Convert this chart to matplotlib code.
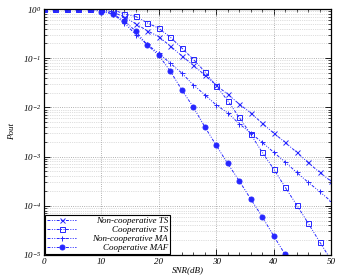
import numpy as np
import matplotlib
matplotlib.use("Agg")
import matplotlib.pyplot as plt
from matplotlib.ticker import LogLocator, FixedLocator, NullFormatter

plt.rcParams['font.family'] = 'Liberation Serif'
plt.rcParams['font.style'] = 'italic'
plt.rcParams['mathtext.fontset'] = 'custom'
plt.rcParams['mathtext.rm'] = 'Liberation Serif:italic'
plt.rcParams['mathtext.it'] = 'Liberation Serif:italic'

# SNR in dB, markers every 2 dB
snr = np.arange(0, 52, 2)

# log10(Pout)
noncoop_ts = [0, 0, 0, 0, 0, -0.005, -0.06, -0.16, -0.30, -0.44, -0.56, -0.75, -0.95,
              -1.14, -1.34, -1.55, -1.73, -1.93, -2.11, -2.32, -2.52, -2.71, -2.91,
              -3.12, -3.32, -3.50]
coop_ts = [0, 0, 0, 0, 0, 0, -0.01, -0.10, -0.15, -0.28, -0.39, -0.57, -0.79,
           -1.02, -1.27, -1.56, -1.86, -2.20, -2.54, -2.91, -3.25, -3.62, -3.98,
           -4.35, -4.73, -5.10]
noncoop_ma = [0, 0, 0, 0, 0, -0.02, -0.10, -0.28, -0.52, -0.72, -0.90, -1.10, -1.30,
              -1.54, -1.74, -1.95, -2.11, -2.33, -2.52, -2.71, -2.91, -3.11, -3.32,
              -3.52, -3.71, -3.91]
coop_maf = [0, 0, 0, 0, 0, -0.05, -0.10, -0.24, -0.45, -0.73, -0.94, -1.26, -1.64,
            -1.99, -2.39, -2.77, -3.14, -3.49, -3.86, -4.22, -4.61, -4.99, -5.37,
            -5.75, -6.13, -6.51]

labels = ['Non-cooperative TS', 'Cooperative TS', 'Non-cooperative MA', 'Cooperative MAF']
series = [noncoop_ts, coop_ts, noncoop_ma, coop_maf]
markers = ['x', 's', '+', 'o']
fills = ['none', 'none', 'none', 'full']

fig = plt.figure(figsize=(3.43, 2.75), dpi=100)
ax = fig.add_axes([0.128, 0.073, 0.837, 0.894])

blue = (0.15, 0.15, 1.0)
for s, lab, m, f in zip(series, labels, markers, fills):
    ax.semilogy(snr, 10 ** np.array(s), linestyle=(0, (3, 1.5, 1, 1.5, 1, 1.5)),
                color=blue, lw=0.7, marker=m, ms=3.6, mew=0.7,
                markerfacecolor=blue if f == 'full' else 'none',
                label=lab)

ax.set_xlim(0, 50)
ax.set_ylim(1e-5, 1)
ax.xaxis.set_major_locator(FixedLocator([0, 10, 20, 30, 40, 50]))
ax.xaxis.set_minor_locator(FixedLocator(np.arange(0, 51, 2)))
ax.yaxis.set_minor_locator(LogLocator(base=10, subs=np.arange(2, 10), numticks=20))
ax.yaxis.set_minor_formatter(NullFormatter())
ax.set_yticks([1e-5, 1e-4, 1e-3, 1e-2, 1e-1, 1])
ax.set_yticklabels([r'$10^{-5}$', r'$10^{-4}$', r'$10^{-3}$', r'$10^{-2}$', r'$10^{-1}$', r'$10^{0}$'])

ax.tick_params(which='both', direction='in', top=True, right=True, labelsize=6.5, pad=2)
ax.tick_params(which='major', length=4, width=0.6)
ax.tick_params(which='minor', length=2, width=0.5)
ax.grid(which='major', linestyle=':', color='0.6', lw=0.6)
ax.grid(which='minor', axis='y', linestyle=':', color='0.75', lw=0.5)
for sp in ax.spines.values():
    sp.set_linewidth(0.9)

ax.set_xlabel('SNR(dB)', fontsize=6.5, labelpad=0)
ax.set_ylabel('Pout', fontsize=6.5, labelpad=5)

leg = ax.legend(loc='lower left', fontsize=6.5, frameon=True, fancybox=False,
                edgecolor='black', framealpha=1, borderpad=0.2, labelspacing=0.05,
                handlelength=3.2, handletextpad=1.8, borderaxespad=0.15)
leg.get_frame().set_linewidth(0.8)

# right-align legend texts
fig.canvas.draw()
renderer = fig.canvas.get_renderer()
widths = [t.get_window_extent(renderer).width for t in leg.get_texts()]
shift = max(widths)
for t, w in zip(leg.get_texts(), widths):
    t.set_position((shift - w, 0))

fig.savefig('out.png', dpi=100)
